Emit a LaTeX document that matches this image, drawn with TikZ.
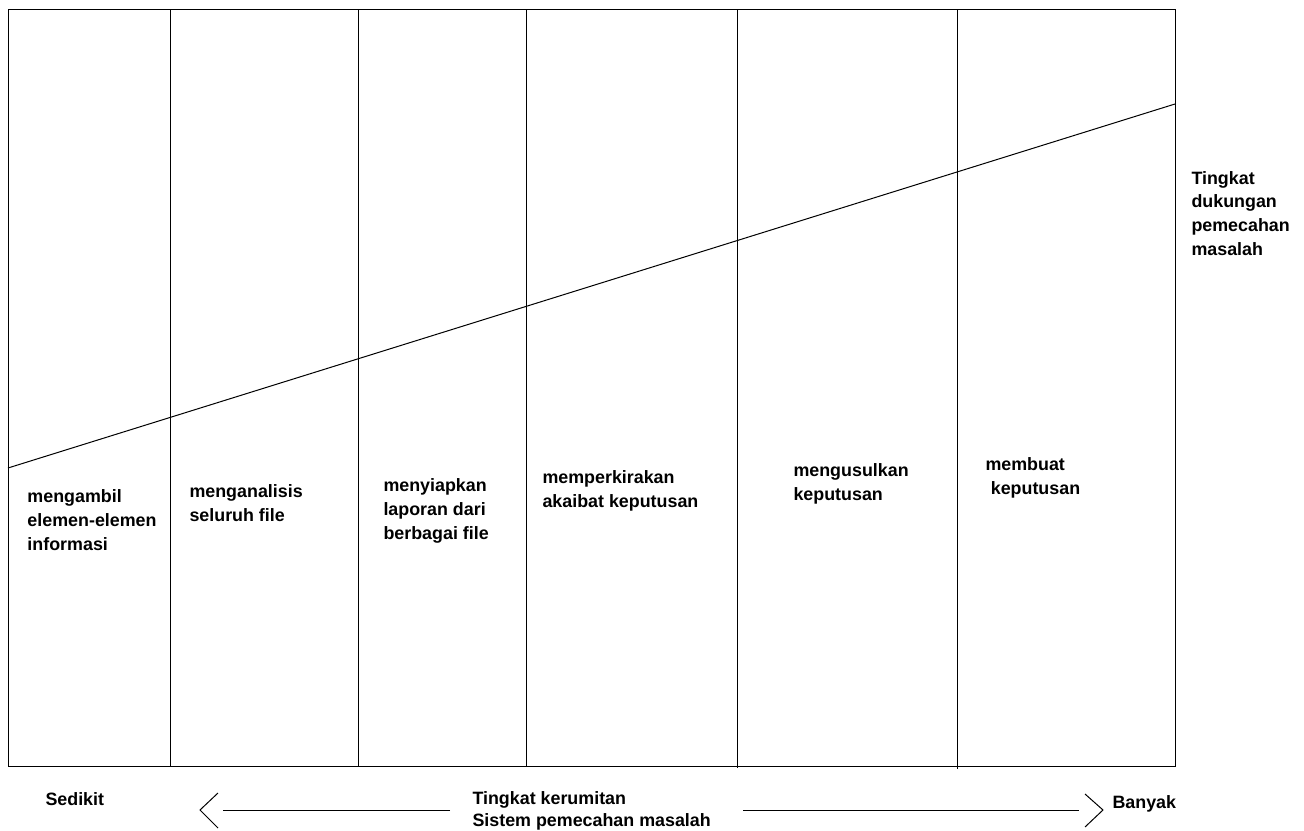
\documentclass[tikz,border=0pt]{standalone}
\usepackage{fontspec}
\setmainfont{Liberation Sans}

\tikzset{every picture/.style={line width=0.75pt}}
\tikzset{lbl/.style={anchor=base west,inner sep=0pt,align=left,font=\fontsize{13.4}{18}\selectfont\bfseries}}

\begin{document}
\begin{tikzpicture}[x=0.75pt,y=0.75pt,yscale=-1,xscale=1]
        \useasboundingbox (0,0) rectangle (1304,831);

        %Shape: Rectangle [id:frame] 
        \draw   (8,10) -- (1175,10) -- (1175,766) -- (8,766) -- cycle ;
        %Straight Lines [id:col1] 
        \draw    (170,10) -- (170,766) ;
        %Straight Lines [id:col2] 
        \draw    (358,10) -- (358,766) ;
        %Straight Lines [id:col3] 
        \draw    (526,10) -- (526,766) ;
        %Straight Lines [id:col4] 
        \draw    (737,10) -- (737,768) ;
        %Straight Lines [id:col5] 
        \draw    (957,10) -- (957,769) ;
        %Straight Lines [id:slope] 
        \draw    (8,468) -- (1175,104) ;

        % Text Node (anchored at the baseline of the last line)
        \node [lbl] (ambil) at (27,550) {mengambil\\elemen-elemen\\informasi};
        % Text Node
        \node [lbl] (analisis) at (189,521) {menganalisis\\seluruh file};
        % Text Node
        \node [lbl] (siapkan) at (383,539) {menyiapkan\\laporan dari\\berbagai file};
        % Text Node
        \node [lbl] (kira) at (542,507) {memperkirakan\\akaibat keputusan};
        % Text Node
        \node [lbl] (usul) at (793,500) {mengusulkan\\keputusan};
        % Text Node
        \node [lbl] (buat) at (985,494) {membuat\\\hspace*{4pt}keputusan};
        % Text Node
        \node [lbl] (dukungan) at (1191,256) {Tingkat\\dukungan\\pemecahan\\masalah};

        % Text Node
        \node [lbl] (sedikit) at (45,805) {Sedikit};
        % Text Node
        \node [lbl,font=\fontsize{13.4}{16.5}\selectfont\bfseries] (rumit) at (472,826) {Tingkat kerumitan\\Sistem pemecahan masalah};
        % Text Node
        \node [lbl] (banyak) at (1112,808) {Banyak};

        \coordinate (ltip) at (200,810);
        \coordinate (rtip) at (1103,810);
        %Straight Lines [id:leftarrow] 
        \draw    (450,810) -- ([xshift=17]ltip) ;
        \draw    ([shift={(18,-17)}]ltip) -- (ltip) -- ([shift={(18,18)}]ltip) ;
        %Straight Lines [id:rightarrow] 
        \draw    (743,810) -- ([xshift=-18]rtip) ;
        \draw    ([shift={(-18,-16)}]rtip) -- (rtip) -- ([shift={(-18,17)}]rtip) ;

\end{tikzpicture}
\end{document}
